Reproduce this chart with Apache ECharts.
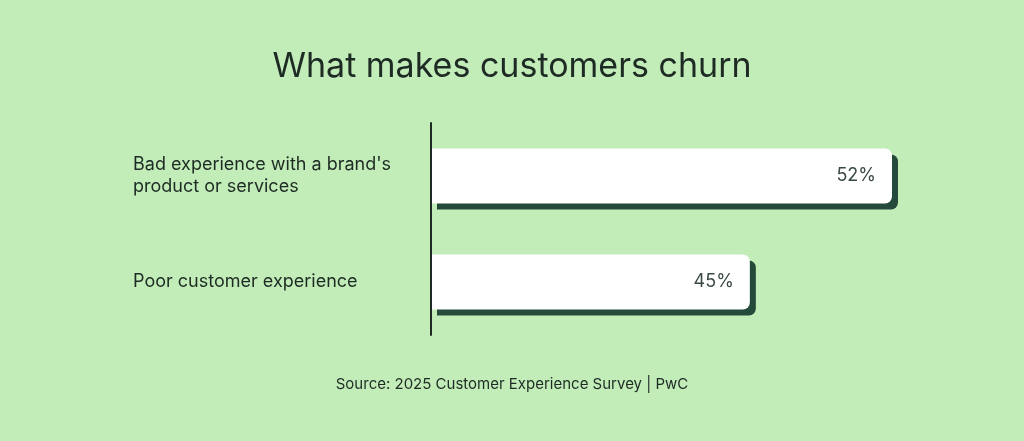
<!DOCTYPE html>
<html lang="en">
<head>
    <meta charset="UTF-8">
    <title>What makes customers churn</title>
    <script src="https://cdn.jsdelivr.net/npm/echarts@6/dist/echarts.min.js"></script>
    <style>
        html, body { margin: 0; padding: 0; background: #c2edb9; }
        #main { width: 1024px; height: 441px; }
    </style>
</head>
<body>
<div id="main"></div>
<script type="text/javascript">
    var categories = ["Bad experience with a brand's\nproduct or services", "Poor customer experience"];
    var values = [52, 45];

    const myChart = echarts.init(document.getElementById('main'));
    myChart.setOption({
        backgroundColor: '#c2edb9',
        title: [{
            text: 'What makes customers churn',
            left: 'center',
            top: 45,
            textStyle: { fontFamily: 'Inter', fontSize: 34, fontWeight: 'normal', color: '#1e2b24' }
        }, {
            text: 'Source: 2025 Customer Experience Survey | PwC',
            left: 'center',
            top: 372,
            textStyle: { fontFamily: 'Inter', fontSize: 15, fontWeight: 'normal', color: '#1e2b24' }
        }],
        grid: { left: 431, right: 132, top: 123, bottom: 106 },
        xAxis: {
            type: 'value',
            min: 29.3,
            max: 52,
            show: false
        },
        yAxis: {
            type: 'category',
            inverse: true,
            data: categories,
            z: 5,
            axisLine: { lineStyle: { color: '#1e2b24', width: 2 } },
            axisTick: { show: false },
            axisLabel: {
                align: 'left',
                margin: 298,
                fontFamily: 'Inter',
                fontSize: 18,
                lineHeight: 22,
                color: '#1e2b24'
            }
        },
        series: [{
            type: 'bar',
            data: values,
            barWidth: 55,
            itemStyle: {
                color: '#ffffff',
                borderWidth: 0,
                borderRadius: [0, 7, 7, 0],
                shadowColor: '#234a3a',
                shadowOffsetX: 6,
                shadowOffsetY: 6,
                shadowBlur: 0
            },
            label: {
                show: true,
                position: 'insideRight',
                distance: 16,
                formatter: '{c}%',
                fontFamily: 'Inter',
                fontSize: 18,
                color: '#3a4a42'
            }
        }]
    });
</script>
</body>
</html>
